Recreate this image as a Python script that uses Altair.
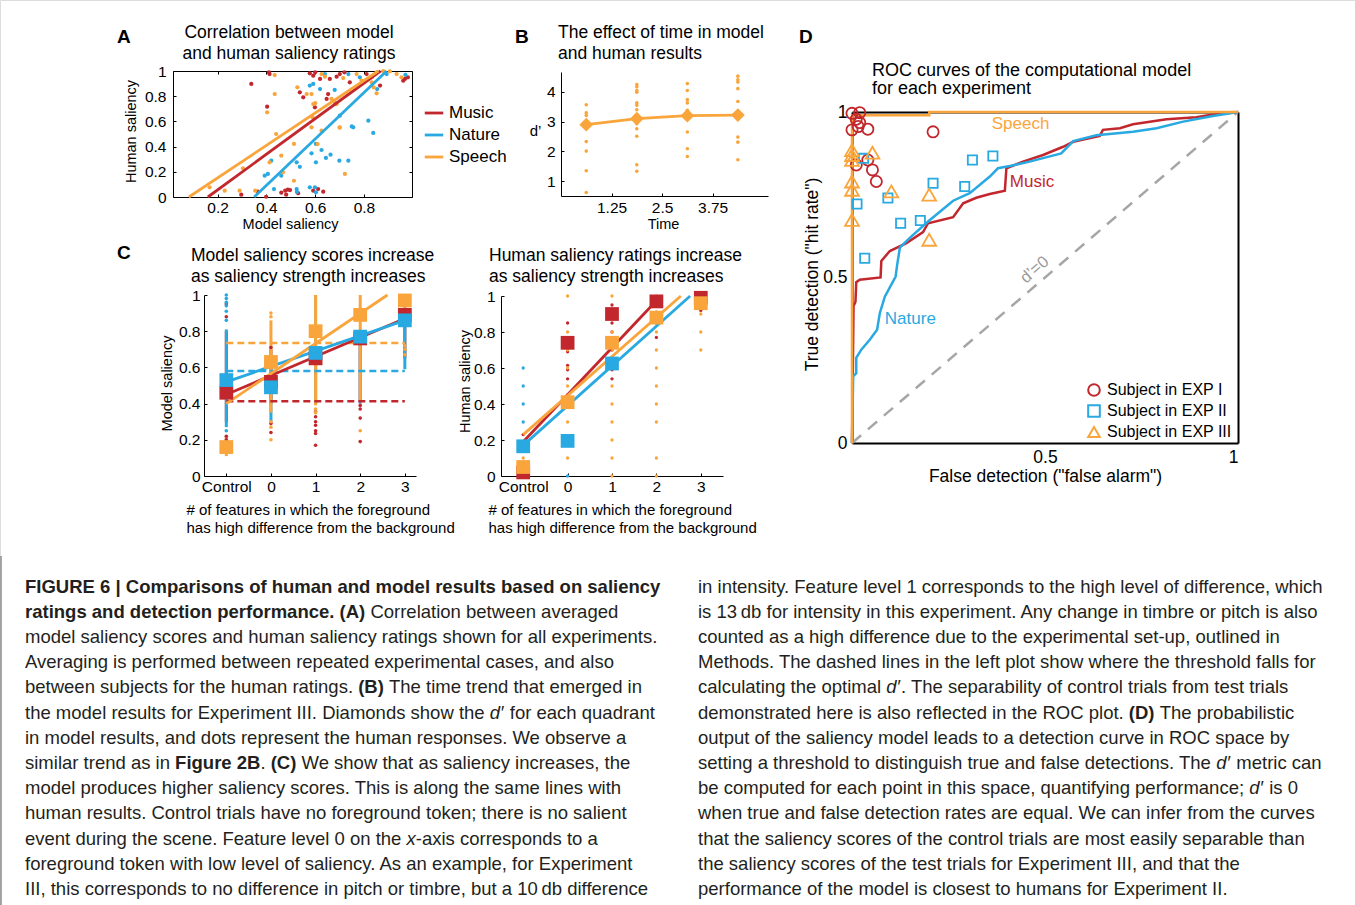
import altair as alt
import pandas as pd

W, H = 1355, 905
FONT = "Liberation Sans"
RED, BLUE, ORANGE = "#C1272D", "#29A9E1", "#F9A53B"
GRAY = "#A6A6A6"
SERIES = ["Music", "Nature", "Speech"]
SERIES_COLORS = [RED, BLUE, ORANGE]

# ---------------- Panel A: model vs human saliency ----------------
a_music_model = [0.338, 0.413, 0.403, 0.297, 0.365, 0.399, 0.461, 0.477, 0.488, 0.481,
                 0.578, 0.592, 0.62, 0.66, 0.688, 0.701, 0.742, 0.811, 0.961, 0.968,
                 0.866, 0.551, 0.537, 0.653, 0.647, 0.599, 0.592, 0.612, 0.633, 0.497,
                 0.41, 0.60, 0.72, 0.98, 0.53]
a_music_human = [0.897, 0.976, 0.717, 0.018, 0.042, 0.002, 0.034, 0.05, 0.058, 0.018,
                 0.982, 0.963, 0.937, 0.937, 0.955, 0.976, 0.91, 0.976, 0.923, 0.937,
                 0.884, 0.791, 0.831, 0.817, 0.778, 0.712, 0.05, 0.063, 0.042, 0.055,
                 0.99, 0.99, 0.99, 0.95, 0.03]
a_nature_model = [0.42, 0.393, 0.406, 0.461, 0.431, 0.64, 0.736, 0.783, 0.893, 0.854,
                  0.578, 0.592, 0.62, 0.701, 0.756, 0.75, 0.818, 0.838, 0.603, 0.585,
                  0.626, 0.603, 0.644, 0.663, 0.699, 0.736, 0.524, 0.537, 0.524, 0.525,
                  0.578, 0.599, 0.603, 0.97, 0.68]
a_nature_human = [0.288, 0.169, 0.183, 0.169, 0.063, 0.976, 0.976, 0.95, 0.976, 0.857,
                  0.884, 0.897, 0.857, 0.645, 0.553, 0.56, 0.606, 0.508, 0.421, 0.347,
                  0.373, 0.275, 0.31, 0.336, 0.288, 0.288, 0.275, 0.24, 0.063, 0.04,
                  0.077, 0.077, 0.037, 0.97, 0.85]
a_speech_model = [0.434, 0.434, 0.403, 0.44, 0.461, 0.304, 0.413, 0.468, 0.167, 0.229,
                  0.29, 0.354, 0.626, 0.64, 0.715, 0.77, 0.79, 0.832, 0.852, 0.879,
                  0.906, 0.934, 0.954, 0.832, 0.852, 0.84, 0.527, 0.565, 0.585, 0.592,
                  0.6, 0.688, 0.667, 0.589, 0.585, 0.701, 0.626, 0.513, 0.61, 0.722,
                  0.513, 0.7, 0.68]
a_speech_human = [0.968, 0.817, 0.672, 0.5, 0.328, 0.228, 0.275, 0.196, 0.077, 0.05,
                  0.05, 0.05, 0.976, 0.955, 0.944, 0.976, 0.923, 0.95, 0.99, 1.0,
                  0.997, 0.976, 0.95, 0.91, 0.823, 0.87, 0.871, 0.817, 0.817, 0.738,
                  0.745, 0.738, 0.778, 0.633, 0.553, 0.553, 0.526, 0.421, 0.42, 0.183,
                  0.129, 0.55, 0.75]
a_fit_start = [0.16, 0.35, 0.082]   # model saliency where fit = 0
a_fit_end = [0.868, 0.893, 0.859]   # model saliency where fit = 1

# ---------------- Panel B: d' over time ----------------
b_time = [0.625, 1.875, 3.125, 4.375]
b_model_d = [2.9, 3.1, 3.2, 3.22]
b_human_d = [
    [3.57, 3.3, 3.21, 3.0, 2.33, 2.01, 1.35, 0.62],
    [4.25, 4.17, 4.05, 3.99, 3.63, 3.55, 3.4, 2.93, 2.76, 2.51, 1.55, 1.33],
    [4.28, 4.05, 3.74, 3.63, 3.38, 2.65, 2.09, 1.83],
    [4.53, 4.41, 4.33, 4.11, 3.68, 2.48, 2.31, 1.72],
]

# ---------------- Panel C (left): model saliency by level ----------------
c_levels = [-1, 0, 1, 2, 3]  # -1 = Control
c_model_mean = {"Music": [0.46, 0.52, 0.65, 0.76, 0.89],
                "Speech": [0.16, 0.63, 0.80, 0.89, 0.97],
                "Nature": [0.53, 0.49, 0.68, 0.77, 0.86]}
c_model_lo = {"Music": [0.30, 0.40, 0.40, 0.42, 0.65],
              "Speech": [0.11, 0.35, 0.39, 0.42, 0.85],
              "Nature": [0.27, 0.30, 0.40, 0.40, 0.59]}
c_model_hi = {"Music": [0.80, 0.70, 0.70, 0.75, 0.92],
              "Speech": [0.22, 0.86, 1.00, 1.00, 1.00],
              "Nature": [0.81, 0.60, 1.00, 0.78, 0.95]}
c_model_dot_lev = {"Music": [-1, -1, -1, -1, 0, 0, 0, 1, 1, 1, 1, 1, 1, 1, 2, 2, 2, 2],
                   "Nature": [-1, -1, -1, -1, -1, -1, -1],
                   "Speech": [0, 0, 0, 0, 0, 2, 3, 3, 3, 1, 1]}
c_model_dot_val = {"Music": [0.95, 0.88, 0.22, 0.20, 0.71, 0.29, 0.24, 0.355, 0.327, 0.30, 0.28,
                             0.25, 0.235, 0.17, 0.39, 0.37, 0.32, 0.19],
                   "Nature": [1.0, 0.98, 0.96, 0.94, 0.91, 0.86, 0.25],
                   "Speech": [0.90, 0.88, 0.30, 0.27, 0.20, 0.25, 0.72, 0.70, 0.67, 0.37, 0.35]}
c_model_threshold = [0.413, 0.58, 0.735]
c_model_fit_x = [[-1, 3], [-1, 3], [-1, 2.61]]
c_model_fit_y = [[0.45, 0.87], [0.52, 0.86], [0.40, 1.0]]

# ---------------- Panel C (right): human saliency by level ----------------
c_human_mean_lev = {"Music": [-1, 0, 1, 2, 3], "Nature": [-1, 0, 1], "Speech": [-1, 0, 1, 2, 3]}
c_human_mean = {"Music": [0.02, 0.74, 0.90, 0.97, 0.99],
                "Nature": [0.165, 0.195, 0.625],
                "Speech": [0.05, 0.41, 0.74, 0.88, 0.96]}
c_human_dot_lev = {"Music": [-1, 0, 0, 0, 0, 0, 0, 1, 1, 1, 1, 1, 1, 1, 1, 2, 2, 2, 3],
                   "Nature": [-1, -1, -1, -1, 0, 0],
                   "Speech": [-1, -1, 0, 0, 0, 0, 0, 0, 0, 0, 0,
                              1, 1, 1, 1, 1, 1, 1, 1, 1, 1, 1,
                              2, 2, 2, 2, 2, 2, 2, 2, 2, 2, 3, 3, 3, 3]}
c_human_dot_val = {"Music": [0.23, 0.85, 0.69, 0.615, 0.59, 0.54, 0.45, 0.95, 0.85, 0.80, 0.75,
                             0.70, 0.64, 0.59, 0.54, 0.91, 0.85, 0.77, 0.92],
                   "Nature": [0.6, 0.5, 0.4, 0.3, 0.0, 0.2],
                   "Speech": [0.1, 0.0, 1.0, 0.8, 0.7, 0.6, 0.5, 0.4, 0.3, 0.2, 0.1,
                              1.0, 0.9, 0.8, 0.7, 0.6, 0.5, 0.4, 0.3, 0.2, 0.1, 0.0,
                              1.0, 0.9, 0.8, 0.7, 0.6, 0.5, 0.4, 0.3, 0.1, 0.0,
                              1.0, 0.9, 0.8, 0.7]}
c_human_fit_x = [[-1, 2.1], [-1, 2.76], [-1, 2.55]]
c_human_fit_y = [[0.19, 1.0], [0.17, 1.0], [0.23, 1.0]]

# ---------------- Panel D: ROC ----------------
d_music_fa = [0, 0.004, 0.009, 0.011, 0.02, 0.074, 0.076, 0.098, 0.141, 0.184, 0.197, 0.262,
              0.288, 0.322, 0.357, 0.396, 0.4, 0.443, 0.495, 0.547, 0.573, 0.642, 0.65,
              0.694, 0.728, 0.815, 0.892, 0.927, 1.0]
d_music_hit = [0, 0.414, 0.427, 0.486, 0.493, 0.5, 0.55, 0.58, 0.604, 0.637, 0.664, 0.682,
               0.724, 0.741, 0.752, 0.762, 0.83, 0.85, 0.87, 0.895, 0.91, 0.928, 0.946,
               0.951, 0.963, 0.978, 0.984, 0.991, 1.0]
d_nature_fa = [0, 0.003, 0.011, 0.011, 0.024, 0.046, 0.065, 0.072, 0.085, 0.113, 0.117, 0.124,
               0.149, 0.197, 0.223, 0.262, 0.305, 0.357, 0.378, 0.409, 0.46, 0.542, 0.573,
               0.633, 0.728, 0.789, 0.858, 0.935, 1.0]
d_nature_hit = [0, 0.201, 0.211, 0.257, 0.282, 0.312, 0.342, 0.392, 0.442, 0.503, 0.538, 0.59,
                0.619, 0.669, 0.694, 0.732, 0.755, 0.805, 0.83, 0.837, 0.85, 0.875, 0.912,
                0.93, 0.94, 0.951, 0.971, 0.988, 1.0]
d_speech_fa = [0, 0, 0.2, 0.2, 1.0]
d_speech_hit = [0, 0.99, 0.99, 1.0, 1.0]
EXPS = ["Subject in EXP I", "Subject in EXP II", "Subject in EXP III"]
EXP_SHAPES = ["circle", "square", "triangle-up"]
EXP_MARK_AREA = [125, 85, 190]
d_exp_fa = [[0.0, 0.02, 0.011, 0.02, 0.016, 0.0, 0.041, 0.21, 0.011, 0.041, 0.053, 0.063],
            [0.03, 0.312, 0.365, 0.21, 0.292, 0.013, 0.093, 0.126, 0.177, 0.033],
            [0.0, 0.0, 0.0, 0.053, 0.0, 0.0, 0.0, 0.102, 0.2, 0.2]]
d_exp_hit = [[0.996, 0.998, 0.978, 0.968, 0.956, 0.946, 0.948, 0.94, 0.84, 0.855, 0.825, 0.79],
             [0.86, 0.855, 0.867, 0.785, 0.775, 0.722, 0.74, 0.664, 0.672, 0.558],
             [0.885, 0.87, 0.855, 0.877, 0.79, 0.765, 0.674, 0.76, 0.75, 0.614]]
d_label_fa = [0.409, 0.085, 0.362]
d_label_hit = [0.79, 0.375, 0.964]

# ---------------- Caption text (style, text); spaces are kept for flow ----------------
cap_left = [
    [("b", "FIGURE 6 | Comparisons of human and model results based on saliency")],
    [("b", "ratings and detection performance. (A)"), ("n", " Correlation between averaged")],
    [("n", "model saliency scores and human saliency ratings shown for all experiments.")],
    [("n", "Averaging is performed between repeated experimental cases, and also")],
    [("n", "between subjects for the human ratings. "), ("b", "(B)"), ("n", " The time trend that emerged in")],
    [("n", "the model results for Experiment III. Diamonds show the "), ("i", "d\u2032"), ("n", " for each quadrant")],
    [("n", "in model results, and dots represent the human responses. We observe a")],
    [("n", "similar trend as in "), ("b", "Figure 2B"), ("n", ". "), ("b", "(C)"),
     ("n", " We show that as saliency increases, the")],
    [("n", "model produces higher saliency scores. This is along the same lines with")],
    [("n", "human results. Control trials have no foreground token; there is no salient")],
    [("n", "event during the scene. Feature level 0 on the "), ("i", "x"), ("n", "-axis corresponds to a")],
    [("n", "foreground token with low level of saliency. As an example, for Experiment")],
    [("n", "III, this corresponds to no difference in pitch or timbre, but a 10\u2009db difference")],
]
cap_right = [
    [("n", "in intensity. Feature level 1 corresponds to the high level of difference, which")],
    [("n", "is 13\u2009db for intensity in this experiment. Any change in timbre or pitch is also")],
    [("n", "counted as a high difference due to the experimental set-up, outlined in")],
    [("n", "Methods. The dashed lines in the left plot show where the threshold falls for")],
    [("n", "calculating the optimal "), ("i", "d\u2032"), ("n", ". The separability of control trials from test trials")],
    [("n", "demonstrated here is also reflected in the ROC plot. "), ("b", "(D)"), ("n", " The probabilistic")],
    [("n", "output of the saliency model leads to a detection curve in ROC space by")],
    [("n", "setting a threshold to distinguish true and false detections. The "), ("i", "d\u2032"),
     ("n", " metric can")],
    [("n", "be computed for each point in this space, quantifying performance; "), ("i", "d\u2032"), ("n", " is 0")],
    [("n", "when true and false detection rates are equal. We can infer from the curves")],
    [("n", "that the saliency scores of the control trials are most easily separable than")],
    [("n", "the saliency scores of the test trials for Experiment III, and that the")],
    [("n", "performance of the model is closest to humans for Experiment II.")],
]
CAP_X = [25, 698]
CAP_Y0, CAP_DY, CAP_SIZE = 586.5, 25.2, 18.5

# Arial / Liberation Sans advance widths (1/1000 em) to flow mixed-style segments
_REG = dict(zip(" .,;:-|()'0123456789", [278, 278, 278, 278, 278, 333, 260, 333, 333, 191] + [556] * 10))
_REG.update(dict(zip("ABCDEFGHIJKLMNOPQRSTUVWXYZ",
                     [667, 667, 722, 722, 667, 611, 778, 722, 278, 500, 667, 556, 833, 722, 778, 667,
                      778, 722, 667, 611, 722, 667, 944, 667, 667, 611])))
_REG.update(dict(zip("abcdefghijklmnopqrstuvwxyz",
                     [556, 556, 500, 556, 556, 278, 556, 556, 222, 222, 500, 222, 833, 556, 556, 556,
                      556, 333, 500, 278, 556, 500, 722, 500, 500, 500])))
_BOLD = dict(zip(" .,;:-|()'0123456789", [278, 278, 278, 333, 333, 333, 280, 333, 333, 238] + [556] * 10))
_BOLD.update(dict(zip("ABCDEFGHIJKLMNOPQRSTUVWXYZ",
                      [722, 722, 722, 722, 667, 611, 778, 722, 278, 556, 722, 611, 833, 722, 778, 667,
                       778, 722, 667, 611, 722, 667, 944, 667, 667, 611])))
_BOLD.update(dict(zip("abcdefghijklmnopqrstuvwxyz",
                      [556, 611, 556, 611, 556, 333, 611, 611, 278, 278, 556, 278, 889, 611, 611, 611,
                       611, 389, 556, 333, 611, 556, 778, 556, 556, 500])))


def text_width(s, size, style):
    tbl = _BOLD if style == "b" else _REG
    return sum(tbl.get(ch, 250) for ch in s) * size / 1000.0


# ================= helpers =================
def sc(domain, rng):
    return alt.Scale(domain=domain, range=rng, nice=False, zero=False)


def axis(orient, pos, **kw):
    off = {"bottom": pos - H, "top": -pos, "left": -pos, "right": pos - W}[orient]
    base = dict(orient=orient, offset=off, grid=False, title=None,
                labelFont=FONT, labelFontSize=15.5, labelColor="black",
                titleFont=FONT, titleFontWeight="normal", titleColor="black",
                domainColor="black", tickColor="black", tickSize=0, ticks=False,
                labelPadding=4)
    base.update(kw)
    return alt.Axis(**base)


def tick_axis(orient, pos, values, size=3):
    return axis(orient, pos, labels=False, domain=False, ticks=True, tickSize=size, values=values)


def col_scale():
    return alt.Scale(domain=SERIES, range=SERIES_COLORS)


def long_df(x_lists, y_lists, xname, yname, names=SERIES):
    rows = []
    for s, xs, ys in zip(names, x_lists, y_lists):
        for k, (xv, yv) in enumerate(zip(xs, ys)):
            rows.append({xname: xv, yname: yv, "series": s, "i": k})
    return pd.DataFrame(rows)


def text_layer(rows, **kw):
    df = pd.DataFrame(rows, columns=["x", "y", "t"])
    base = dict(font=FONT, color="black", baseline="middle")
    base.update(kw)
    return alt.Chart(df).mark_text(**base).encode(
        x=alt.X("x:Q", scale=None, axis=None),
        y=alt.Y("y:Q", scale=None, axis=None),
        text="t:N")


layers = []

# ================= Panel A =================
AX = sc([0.017, 0.997], [173, 412])
AY = sc([0, 1], [197, 71])
a_xt = [0.2, 0.4, 0.6, 0.8]
a_yt = [0, 0.2, 0.4, 0.6, 0.8, 1]
dfA = long_df([a_music_model, a_nature_model, a_speech_model],
              [a_music_human, a_nature_human, a_speech_human], "model", "human")
layers.append(alt.Chart(dfA).mark_circle(size=18, opacity=1).encode(
    x=alt.X("model:Q", scale=AX, axis=axis("bottom", 197, values=a_xt, format=".2~g", labelPadding=3,
                                           title="Model saliency", titleFontSize=14.5, titleX=290, titleY=27,
                                           titleAlign="center", titleBaseline="middle")),
    y=alt.Y("human:Q", scale=AY, axis=axis("left", 173, values=a_yt, format=".2~g", labelPadding=7,
                                           title="Human saliency", titleFontSize=14.5, titleX=-42, titleY=131,
                                           titleAlign="center", titleBaseline="middle")),
    color=alt.Color("series:N", scale=col_scale(), legend=None)))
dfA_fit = long_df([[a_fit_start[k], a_fit_end[k]] for k in range(3)], [[0, 1]] * 3, "model", "human")
layers.append(alt.Chart(dfA_fit).mark_line(strokeWidth=2.8).encode(
    x=alt.X("model:Q", scale=AX, axis=axis("bottom", 71, labels=False, ticks=True, tickSize=3, values=a_xt)),
    y=alt.Y("human:Q", scale=AY, axis=axis("left", 412, labels=False, ticks=True, tickSize=3, values=a_yt)),
    color=alt.Color("series:N", scale=col_scale(),
                    legend=alt.Legend(title=None, orient="none", legendX=423, legendY=102,
                                      symbolType="stroke", symbolSize=340, symbolStrokeWidth=2.8,
                                      labelFont=FONT, labelFontSize=17, labelColor="black",
                                      labelOffset=4, rowPadding=3, padding=0))))
layers.append(alt.Chart(dfA_fit).mark_line(opacity=0).encode(
    x=alt.X("model:Q", scale=AX, axis=tick_axis("top", 197, a_xt)),
    y=alt.Y("human:Q", scale=AY, axis=tick_axis("right", 173, a_yt)),
    detail="series:N"))

# ================= Panel B =================
BX = sc([0, 5.12], [561, 768])
BY = sc([0.5, 4.67], [196, 72])
b_xt = [1.25, 2.5, 3.75]
b_yt = [1, 2, 3, 4]
dfB_h = pd.DataFrame([{"time": t, "d": v} for t, vals in zip(b_time, b_human_d) for v in vals])
layers.append(alt.Chart(dfB_h).mark_circle(size=13, opacity=1, color=ORANGE).encode(
    x=alt.X("time:Q", scale=BX, axis=axis("bottom", 196, values=b_xt, format=".3~g", labelPadding=4,
                                          title="Time", titleFontSize=14.5, titleX=663, titleY=28,
                                          titleAlign="center", titleBaseline="middle")),
    y=alt.Y("d:Q", scale=BY, axis=axis("left", 561, values=b_yt, format=".1~g", labelPadding=6,
                                       title="d\u2019", titleFontSize=15, titleAngle=0, titleX=-26, titleY=130,
                                       titleAlign="center", titleBaseline="middle"))))
dfB_m = pd.DataFrame({"time": b_time, "d": b_model_d})
layers.append(alt.Chart(dfB_m).mark_line(color=ORANGE, strokeWidth=2.8).encode(
    x=alt.X("time:Q", scale=BX, axis=tick_axis("top", 196, b_xt)),
    y=alt.Y("d:Q", scale=BY, axis=tick_axis("right", 561, b_yt))))
layers.append(alt.Chart(dfB_m).mark_point(shape="diamond", filled=True, size=190, opacity=1, color=ORANGE).encode(
    x=alt.X("time:Q", scale=BX, axis=None),
    y=alt.Y("d:Q", scale=BY, axis=None)))

# ================= Panel C left =================
CX1 = sc([-1.5, 3.25], [204, 416])
CY1 = sc([0, 1], [476, 295])
c_yt = [0, 0.2, 0.4, 0.6, 0.8, 1]
C_XTITLE = ["# of features in which the foreground", "has high difference from the background"]
CTRL = "datum.value == -1 ? 'Control' : datum.label"
order_c1 = ["Music", "Speech", "Nature"]
dfC1_r = pd.DataFrame([{"level": lv, "lo": lo, "hi": hi, "series": s}
                       for s in SERIES
                       for lv, lo, hi in zip(c_levels, c_model_lo[s], c_model_hi[s])])
layers.append(alt.Chart(dfC1_r).mark_rule(strokeWidth=3).encode(
    x=alt.X("level:Q", scale=CX1, axis=axis("bottom", 476, values=c_levels, labelExpr=CTRL, labelPadding=3,
                                            title=C_XTITLE, titleFontSize=15, titleX=186, titleY=26,
                                            titleAlign="left", titleBaseline="top", titleLineHeight=18.5)),
    y=alt.Y("lo:Q", scale=CY1, axis=axis("left", 204, values=c_yt, format=".2~g", labelPadding=4,
                                         title="Model saliency", titleFontSize=14.5, titleX=-37, titleY=383,
                                         titleAlign="center", titleBaseline="middle")),
    y2="hi:Q",
    color=alt.Color("series:N", scale=col_scale(), legend=None)))
dfC1_d = pd.DataFrame([{"level": lv, "v": v, "series": s}
                       for s in order_c1 for lv, v in zip(c_model_dot_lev[s], c_model_dot_val[s])])
layers.append(alt.Chart(dfC1_d).mark_circle(size=13, opacity=1).encode(
    x=alt.X("level:Q", scale=CX1, axis=tick_axis("top", 476, c_levels)),
    y=alt.Y("v:Q", scale=CY1, axis=tick_axis("right", 204, c_yt)),
    color=alt.Color("series:N", scale=col_scale(), legend=None)))
dfC1_t = pd.DataFrame({"x0": [-1] * 3, "x1": [3] * 3, "thr": c_model_threshold, "series": SERIES})
layers.append(alt.Chart(dfC1_t).mark_rule(strokeWidth=2.5, strokeDash=[7, 4]).encode(
    x=alt.X("x0:Q", scale=CX1, axis=None), x2="x1:Q",
    y=alt.Y("thr:Q", scale=CY1, axis=None),
    color=alt.Color("series:N", scale=col_scale(), legend=None)))
dfC1_f = long_df(c_model_fit_x, c_model_fit_y, "level", "v")
layers.append(alt.Chart(dfC1_f).mark_line(strokeWidth=2.8).encode(
    x=alt.X("level:Q", scale=CX1, axis=None),
    y=alt.Y("v:Q", scale=CY1, axis=None),
    color=alt.Color("series:N", scale=col_scale(), legend=None)))
dfC1_m = pd.DataFrame([{"level": lv, "v": v, "series": s}
                       for s in order_c1 for lv, v in zip(c_levels, c_model_mean[s])])
layers.append(alt.Chart(dfC1_m).mark_point(shape="square", filled=True, size=190, opacity=1).encode(
    x=alt.X("level:Q", scale=CX1, axis=None),
    y=alt.Y("v:Q", scale=CY1, axis=None),
    color=alt.Color("series:N", scale=col_scale(), legend=None)))

# ================= Panel C right =================
CX2 = sc([-1.5, 3.5], [501, 723])
CY2 = sc([0, 1], [476, 296])
dfC2_d = pd.DataFrame([{"level": lv, "v": v, "series": s}
                       for s in SERIES for lv, v in zip(c_human_dot_lev[s], c_human_dot_val[s])])
layers.append(alt.Chart(dfC2_d).mark_circle(size=11, opacity=1).encode(
    x=alt.X("level:Q", scale=CX2, axis=axis("bottom", 476, values=c_levels, labelExpr=CTRL, labelPadding=3,
                                            title=C_XTITLE, titleFontSize=15, titleX=488, titleY=26,
                                            titleAlign="left", titleBaseline="top", titleLineHeight=18.5)),
    y=alt.Y("v:Q", scale=CY2, axis=axis("left", 501, values=c_yt, format=".2~g", labelPadding=6,
                                        title="Human saliency", titleFontSize=14.5, titleX=-36, titleY=381,
                                        titleAlign="center", titleBaseline="middle")),
    color=alt.Color("series:N", scale=col_scale(), legend=None)))
dfC2_f = long_df(c_human_fit_x, c_human_fit_y, "level", "v")
layers.append(alt.Chart(dfC2_f).mark_line(strokeWidth=2.8).encode(
    x=alt.X("level:Q", scale=CX2, axis=tick_axis("top", 476, c_levels)),
    y=alt.Y("v:Q", scale=CY2, axis=tick_axis("right", 501, c_yt)),
    color=alt.Color("series:N", scale=col_scale(), legend=None)))
dfC2_m = pd.DataFrame([{"level": lv, "v": v, "series": s}
                       for s in SERIES for lv, v in zip(c_human_mean_lev[s], c_human_mean[s])])
layers.append(alt.Chart(dfC2_m).mark_point(shape="square", filled=True, size=190, opacity=1).encode(
    x=alt.X("level:Q", scale=CX2, axis=None),
    y=alt.Y("v:Q", scale=CY2, axis=None),
    color=alt.Color("series:N", scale=col_scale(), legend=None)))

# ================= Panel D =================
DX = sc([0, 1], [852, 1238])
DY = sc([0, 1], [443, 112])
dfD_diag = pd.DataFrame({"fa": [0, 1], "hit": [0, 1]})
layers.append(alt.Chart(dfD_diag).mark_line(color=GRAY, strokeWidth=2.5, strokeDash=[12, 9]).encode(
    x=alt.X("fa:Q", scale=DX, axis=axis("bottom", 443, values=[0.5, 1], format=".1~g", labelFontSize=17.5,
                                        labelPadding=5, domainWidth=2,
                                        title='False detection ("false alarm")', titleFontSize=17.5,
                                        titleX=1045, titleY=33, titleAlign="center", titleBaseline="middle")),
    y=alt.Y("hit:Q", scale=DY, axis=axis("left", 852, values=[0, 0.5, 1], format=".1~g", labelFontSize=17.5,
                                         labelPadding=5, domainWidth=2,
                                         title='True detection ("hit rate")', titleFontSize=17.5,
                                         titleX=-40, titleY=274, titleAlign="center", titleBaseline="middle"))))
dfD_roc = long_df([d_music_fa, d_nature_fa, d_speech_fa], [d_music_hit, d_nature_hit, d_speech_hit], "fa", "hit")
layers.append(alt.Chart(dfD_roc).mark_line(strokeWidth=2.5).encode(
    x=alt.X("fa:Q", scale=DX, axis=axis("top", 112, labels=False, domainWidth=2)),
    y=alt.Y("hit:Q", scale=DY, axis=axis("right", 1238, labels=False, domainWidth=2)),
    color=alt.Color("series:N", scale=col_scale(), legend=None),
    order="i:Q"))
dfD_s = long_df(d_exp_fa, d_exp_hit, "fa", "hit", names=EXPS)
dfD_s["area"] = dfD_s["series"].map(dict(zip(EXPS, EXP_MARK_AREA)))
leg_d = dict(title=None, orient="none", legendX=1086, legendY=382, labelFont=FONT, labelFontSize=16,
             labelColor="black", labelOffset=5, rowPadding=1, padding=0, symbolStrokeWidth=2,
             symbolSize=135)
layers.append(alt.Chart(dfD_s).mark_point(filled=False, strokeWidth=1.8, opacity=1).encode(
    x=alt.X("fa:Q", scale=DX, axis=None),
    y=alt.Y("hit:Q", scale=DY, axis=None),
    color=alt.Color("series:N", scale=alt.Scale(domain=EXPS, range=SERIES_COLORS), legend=alt.Legend(**leg_d)),
    shape=alt.Shape("series:N", scale=alt.Scale(domain=EXPS, range=EXP_SHAPES), legend=alt.Legend(**leg_d)),
    size=alt.Size("area:Q", scale=None)))
dfD_l = pd.DataFrame({"fa": d_label_fa, "hit": d_label_hit, "series": SERIES, "t": SERIES})
layers.append(alt.Chart(dfD_l).mark_text(font=FONT, fontSize=17, align="left", baseline="middle").encode(
    x=alt.X("fa:Q", scale=DX, axis=None),
    y=alt.Y("hit:Q", scale=DY, axis=None),
    color=alt.Color("series:N", scale=col_scale(), legend=None),
    text="t:N"))
dfD_z = pd.DataFrame({"fa": [0.473], "hit": [0.523], "t": ["d\u2019=0"]})
layers.append(alt.Chart(dfD_z).mark_text(font=FONT, fontSize=16.5, color="#9A9A9A", angle=319,
                                         align="center", baseline="middle").encode(
    x=alt.X("fa:Q", scale=DX, axis=None),
    y=alt.Y("hit:Q", scale=DY, axis=None),
    text="t:N"))

# ================= Titles & panel letters =================
layers.append(text_layer([(289, 33, "Correlation between model"), (289, 54, "and human saliency ratings")],
                         fontSize=17.5, align="center"))
layers.append(text_layer([(558, 33, "The effect of time in model"), (558, 54, "and human results"),
                          (191, 256, "Model saliency scores increase"), (191, 277, "as saliency strength increases"),
                          (489, 256, "Human saliency ratings increase"), (489, 277, "as saliency strength increases")],
                         fontSize=17.5, align="left"))
layers.append(text_layer([(872, 71, "ROC curves of the computational model"), (872, 89, "for each experiment")],
                         fontSize=18, align="left"))
layers.append(text_layer([(117, 37, "A"), (515, 37, "B"), (117, 253, "C"), (799, 37, "D")],
                         fontSize=19, fontWeight="bold", align="left"))

# ================= Caption (segments flowed with font metrics) =================
segs = {"n": [], "b": [], "i": []}
for x0, col in zip(CAP_X, (cap_left, cap_right)):
    for li, line in enumerate(col):
        cursor = x0
        for style, raw in line:
            lead = len(raw) - len(raw.lstrip(" "))
            segs[style].append((cursor + text_width(raw[:lead], CAP_SIZE, style),
                                CAP_Y0 + li * CAP_DY, raw.strip(" ")))
            cursor += text_width(raw, CAP_SIZE, style)
layers.append(text_layer(segs["n"], fontSize=CAP_SIZE, align="left", color="#231F20"))
layers.append(text_layer(segs["b"], fontSize=CAP_SIZE, align="left", fontWeight="bold", color="#231F20"))
layers.append(text_layer(segs["i"], fontSize=CAP_SIZE, align="left", fontStyle="italic", color="#231F20"))
layers.append(alt.Chart(pd.DataFrame({"a": [0]})).mark_rule(color="#8C8C8C", strokeWidth=1.5).encode(
    x=alt.value(1), y=alt.value(556), y2=alt.value(905)))

chart = alt.layer(*layers).resolve_scale(
    x="independent", y="independent", color="independent", shape="independent", size="independent"
).resolve_axis(x="independent", y="independent").properties(
    width=W, height=H, autosize=alt.AutoSizeParams(type="none"), padding=0
).configure_view(stroke=None).configure(background="white")

chart.save("out.html", embed_options={"renderer": "svg", "actions": False})
